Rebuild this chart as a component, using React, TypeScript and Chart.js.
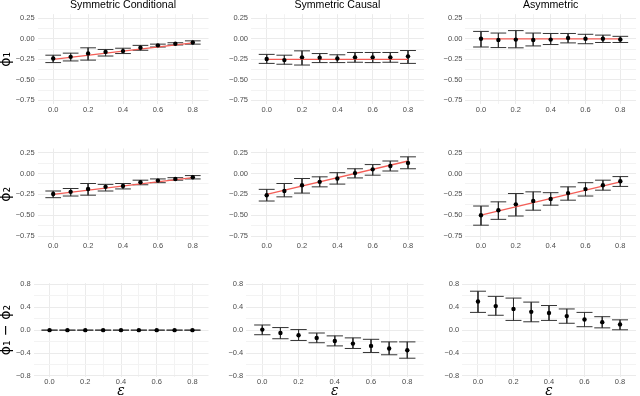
import React, { useEffect, useRef } from 'react';
import { Chart, registerables } from 'chart.js';

Chart.register(...registerables);

// ---------- data ----------
const EPS = [0, 0.1, 0.2, 0.3, 0.4, 0.5, 0.6, 0.7, 0.8];
const X_TICKS = [0, 0.1, 0.2, 0.3, 0.4, 0.5, 0.6, 0.7, 0.8];
const X_MAJOR = [0, 0.2, 0.4, 0.6, 0.8];
const Y_TICKS_PHI = [-0.75, -0.625, -0.5, -0.375, -0.25, -0.125, 0, 0.125, 0.25];
const Y_MAJOR_PHI = [-0.75, -0.5, -0.25, 0, 0.25];
const Y_TICKS_DIFF = [-0.8, -0.6, -0.4, -0.2, 0, 0.2, 0.4, 0.6, 0.8];
const Y_MAJOR_DIFF = [-0.8, -0.4, 0, 0.4, 0.8];

const COL_TITLES = ['Symmetric Conditional', 'Symmetric Causal', 'Asymmetric'];
const ROW_TITLES = ['ϕ₁', 'ϕ₂', 'ϕ₁ − ϕ₂'];
const X_TITLE = 'ε';

const TRUTH_X = [0, 0.8];

// Symmetric Conditional
const scPhi1Est = [-0.24, -0.22, -0.18, -0.16, -0.15, -0.11, -0.08, -0.06, -0.045];
const scPhi1Hi = [-0.2, -0.175, -0.11, -0.13, -0.115, -0.08, -0.065, -0.048, -0.025];
const scPhi1Lo = [-0.29, -0.27, -0.26, -0.21, -0.18, -0.14, -0.1, -0.075, -0.065];
const scPhi1True = [-0.25, -0.05];

const scPhi2Est = [-0.245, -0.22, -0.185, -0.16, -0.15, -0.105, -0.085, -0.065, -0.045];
const scPhi2Hi = [-0.21, -0.18, -0.12, -0.13, -0.12, -0.08, -0.065, -0.05, -0.025];
const scPhi2Lo = [-0.29, -0.27, -0.26, -0.21, -0.185, -0.135, -0.11, -0.08, -0.065];
const scPhi2True = [-0.25, -0.05];

const scDiffEst = [0, 0, 0, 0, 0, 0, 0, 0, 0];
const scDiffHi = [0, 0, 0, 0, 0, 0, 0, 0, 0];
const scDiffLo = [0, 0, 0, 0, 0, 0, 0, 0, 0];

// Symmetric Causal
const caPhi1Est = [-0.246, -0.26, -0.226, -0.23, -0.24, -0.226, -0.226, -0.226, -0.214];
const caPhi1Hi = [-0.19, -0.2, -0.147, -0.18, -0.195, -0.167, -0.167, -0.167, -0.143];
const caPhi1Lo = [-0.3, -0.31, -0.32, -0.29, -0.29, -0.286, -0.29, -0.286, -0.3];
const caPhi1True = [-0.25, -0.25];

const caPhi2Est = [-0.26, -0.21, -0.14, -0.1, -0.06, 0.005, 0.05, 0.09, 0.127];
const caPhi2Hi = [-0.19, -0.12, -0.06, -0.04, 0.01, 0.057, 0.107, 0.15, 0.2];
const caPhi2Lo = [-0.33, -0.28, -0.235, -0.16, -0.127, -0.053, -0.02, 0.03, 0.057];
const caPhi2True = [-0.25, 0.15];

const caDiffEst = [0.01, -0.05, -0.09, -0.135, -0.19, -0.235, -0.275, -0.32, -0.35];
const caDiffHi = [0.09, 0.045, 0.01, -0.05, -0.1, -0.135, -0.16, -0.205, -0.205];
const caDiffLo = [-0.08, -0.15, -0.18, -0.22, -0.275, -0.32, -0.39, -0.43, -0.49];

// Asymmetric
const asPhi1Est = [0.0, -0.015, -0.01, -0.015, -0.01, 0.01, 0.0, 0.0, -0.008];
const asPhi1Hi = [0.09, 0.07, 0.1, 0.07, 0.065, 0.065, 0.055, 0.045, 0.03];
const asPhi1Lo = [-0.1, -0.107, -0.11, -0.087, -0.07, -0.05, -0.06, -0.045, -0.045];
const asPhi1True = [0, 0];

const asPhi2Est = [-0.5, -0.44, -0.37, -0.33, -0.305, -0.235, -0.187, -0.14, -0.093];
const asPhi2Hi = [-0.39, -0.34, -0.24, -0.22, -0.23, -0.16, -0.11, -0.08, -0.037];
const asPhi2Lo = [-0.62, -0.55, -0.51, -0.44, -0.38, -0.32, -0.27, -0.2, -0.155];
const asPhi2True = [-0.5, -0.1];

const asDiffEst = [0.5, 0.42, 0.37, 0.32, 0.3, 0.245, 0.187, 0.14, 0.1];
const asDiffHi = [0.68, 0.59, 0.56, 0.49, 0.43, 0.37, 0.31, 0.235, 0.18];
const asDiffLo = [0.31, 0.26, 0.17, 0.146, 0.17, 0.12, 0.06, 0.04, 0.006];

type PanelData = { est: number[]; lo: number[]; hi: number[]; truth: number[] | null };

const PANELS: PanelData[][] = [
  [
    { est: scPhi1Est, lo: scPhi1Lo, hi: scPhi1Hi, truth: scPhi1True },
    { est: caPhi1Est, lo: caPhi1Lo, hi: caPhi1Hi, truth: caPhi1True },
    { est: asPhi1Est, lo: asPhi1Lo, hi: asPhi1Hi, truth: asPhi1True },
  ],
  [
    { est: scPhi2Est, lo: scPhi2Lo, hi: scPhi2Hi, truth: scPhi2True },
    { est: caPhi2Est, lo: caPhi2Lo, hi: caPhi2Hi, truth: caPhi2True },
    { est: asPhi2Est, lo: asPhi2Lo, hi: asPhi2Hi, truth: asPhi2True },
  ],
  [
    { est: scDiffEst, lo: scDiffLo, hi: scDiffHi, truth: null },
    { est: caDiffEst, lo: caDiffLo, hi: caDiffHi, truth: null },
    { est: asDiffEst, lo: asDiffLo, hi: asDiffHi, truth: null },
  ],
];

// ---------- layout / style ----------
const W = 640;
const H = 396;
const ROW_T = [14.2, 148.5, 283.2];
const ROW_B = [104.4, 240.2, 377.1];
const COL_L = [
  [37.5, 250.8, 465.3],
  [37.5, 250.8, 465.3],
  [33.5, 246, 462],
];
const COL_R = [
  [208.5, 423.9, 639.3],
  [208.5, 423.9, 639.3],
  [208.5, 423.6, 639.5],
];
const CAP = 0.045;
const FONT = "'Liberation Sans', Arial, Helvetica, sans-serif";
const TICK_COLOR = '#4D4D4D';
const MAJOR_GRID = '#EBEBEB';
const MINOR_GRID = '#F3F3F3';
const RED = '#F35E57';
const BAR_COLOR = '#333333';

const near = (a: number, list: number[]) => list.some((v) => Math.abs(v - a) < 1e-6);
const fmt = (v: number, d: number) => (v < -1e-9 ? '\u2212' : '') + Math.abs(v).toFixed(d);

function Panel({ row, col }: { row: number; col: number }) {
  const ref = useRef<HTMLCanvasElement | null>(null);
  useEffect(() => {
    const canvas = ref.current;
    if (!canvas) return;
    const p = PANELS[row][col];
    const isDiff = row === 2;
    const yTicks = isDiff ? Y_TICKS_DIFF : Y_TICKS_PHI;
    const yMajor = isDiff ? Y_MAJOR_DIFF : Y_MAJOR_PHI;
    const yDigits = isDiff ? 1 : 2;
    const T = ROW_T[row];
    const B = ROW_B[row];
    const L = COL_L[row][col];
    const R = COL_R[row][col];

    const yAxisW = col === 0 ? L : 30;
    const padLeft = L - yAxisW;
    const xAxisH = row === 2 ? H - B : 14;
    const padBottom = H - B - xAxisH;
    const titleLH = 10;
    const padTop = row === 0 ? 0 : T;

    const bars: { x: number; y: number | null }[] = [];
    EPS.forEach((x, i) => {
      bars.push({ x: x - CAP, y: p.hi[i] }, { x: x + CAP, y: p.hi[i] }, { x, y: null });
      bars.push({ x, y: p.hi[i] }, { x, y: p.lo[i] }, { x, y: null });
      bars.push({ x: x - CAP, y: p.lo[i] }, { x: x + CAP, y: p.lo[i] }, { x, y: null });
    });

    const datasets: any[] = [
      {
        data: EPS.map((x, i) => ({ x, y: p.est[i] })),
        showLine: false,
        pointRadius: 2.2,
        pointBackgroundColor: '#000',
        pointBorderWidth: 0,
        order: 1,
      },
      {
        data: bars,
        showLine: true,
        spanGaps: false,
        borderColor: BAR_COLOR,
        borderWidth: 1,
        pointRadius: 0,
        order: 3,
      },
    ];
    if (p.truth) {
      datasets.push({
        data: TRUTH_X.map((x, i) => ({ x, y: p.truth![i] })),
        showLine: true,
        borderColor: RED,
        borderWidth: 1.3,
        pointRadius: 0,
        order: 2,
      });
    }

    const gridColor = (ctx: any, major: number[]) =>
      ctx.tick && near(ctx.tick.value, major) ? MAJOR_GRID : MINOR_GRID;

    const chart = new Chart(canvas, {
      type: 'scatter',
      data: { datasets },
      options: {
        animation: false,
        responsive: false,
        devicePixelRatio: 1,
        events: [],
        layout: { padding: { left: padLeft, right: W - R, top: padTop, bottom: padBottom } },
        plugins: {
          legend: { display: false },
          tooltip: { enabled: false },
          title:
            row === 0
              ? {
                  display: true,
                  text: COL_TITLES[col],
                  color: '#000',
                  fullSize: false,
                  font: { family: FONT, size: 10.6, weight: 'normal', lineHeight: titleLH + 'px' },
                  padding: { top: 0, bottom: T - titleLH },
                }
              : { display: false },
        },
        scales: {
          x: {
            type: 'linear',
            min: -0.09,
            max: 0.89,
            afterBuildTicks: (s: any) => {
              s.ticks = X_TICKS.map((v) => ({ value: v }));
            },
            afterFit: (s: any) => {
              s.height = xAxisH;
            },
            ticks: {
              autoSkip: false,
              maxRotation: 0,
              padding: row === 2 ? 0.6 : 1.2,
              color: TICK_COLOR,
              font: { family: FONT, size: 7.5 },
              callback: (v: any) => (near(Number(v), X_MAJOR) ? fmt(Number(v), 1) : ''),
            },
            grid: { color: (ctx: any) => gridColor(ctx, X_MAJOR), lineWidth: 1, drawTicks: false },
            border: { display: false },
            title:
              row === 2
                ? {
                    display: true,
                    text: X_TITLE,
                    color: '#000',
                    padding: 0,
                    font: { family: "'DejaVu Serif', serif", style: 'italic', size: 14, lineHeight: '10px' },
                  }
                : { display: false },
          },
          y: {
            type: 'linear',
            min: isDiff ? -0.82 : -0.8,
            max: isDiff ? 0.82 : 0.3,
            afterBuildTicks: (s: any) => {
              s.ticks = yTicks.map((v) => ({ value: v }));
            },
            afterFit: (s: any) => {
              s.width = yAxisW;
            },
            ticks: {
              autoSkip: false,
              padding: 2.8,
              color: TICK_COLOR,
              font: { family: FONT, size: 7.5 },
              callback: (v: any) => (near(Number(v), yMajor) ? fmt(Number(v), yDigits) : ''),
            },
            grid: { color: (ctx: any) => gridColor(ctx, yMajor), lineWidth: 1, drawTicks: false },
            border: { display: false },
            title:
              col === 0
                ? {
                    display: true,
                    text: ROW_TITLES[row],
                    color: '#000',
                    padding: 0,
                    font: { family: "'DejaVu Sans', sans-serif", size: 14, lineHeight: '12px' },
                  }
                : { display: false },
          },
        },
      } as any,
    });
    return () => chart.destroy();
  }, [row, col]);

  return (
    <canvas
      ref={ref}
      width={W}
      height={H}
      style={{ position: 'absolute', left: 0, top: 0, width: W, height: H }}
    />
  );
}

export default function App() {
  const cells: React.ReactNode[] = [];
  for (let r = 0; r < 3; r++) for (let c = 0; c < 3; c++) cells.push(<Panel key={r + '-' + c} row={r} col={c} />);
  return (
    <div style={{ position: 'fixed', left: 0, top: 0, width: W, height: H, background: '#fff', overflow: 'hidden' }}>
      {cells}
    </div>
  );
}
